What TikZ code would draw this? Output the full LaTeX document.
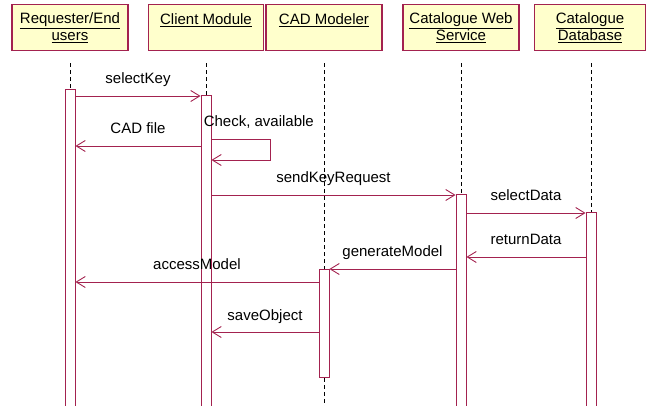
\documentclass[tikz,border=0pt]{standalone}
\usepackage{fontspec}
\setmainfont{Liberation Sans}
\usetikzlibrary{arrows.meta, positioning}
\definecolor{SeqRed}{HTML}{A3224F}
\definecolor{SeqYellow}{HTML}{FFFFCC}

\begin{document}
\begin{tikzpicture}[
			x=1pt, y=-1pt,
			font=\fontsize{15}{17}\selectfont,
			hdr/.style={rectangle, draw=SeqRed, line width=1.2pt, fill=SeqYellow, anchor=north, minimum height=46pt, align=center, inner sep=1pt},
			act/.style={rectangle, draw=SeqRed, line width=0.9pt, fill=white, anchor=north, minimum width=10pt, inner sep=0pt},
			life/.style={dash pattern=on 4pt off 3pt, line width=0.9pt},
			msg/.style={draw=SeqRed, line width=0.9pt, -{Straight Barb[length=9pt, width=11pt]}},
			lbl/.style={anchor=base, yshift=12pt, inner sep=0pt},
			]
			\useasboundingbox (0,0) rectangle (651,406);
			
			\node (req) [hdr, minimum width=116pt] at (70,4) {\underline{Requester/End}\\\underline{users}};
			\node (cli) [hdr, minimum width=115pt] at (206,4) {\underline{Client Module}\\\mbox{}};
			\node (cad) [hdr, minimum width=116pt] at (324,4) {\underline{CAD Modeler}\\\mbox{}};
			\node (cws) [hdr, minimum width=116pt] at (461,4) {\underline{Catalogue Web}\\\underline{Service}};
			\node (db) [hdr, minimum width=111pt] at (590,4) {\underline{Catalogue}\\\underline{Database}};
			
			% activation bars
			\node (actReq) [act, minimum height=323pt] at (req |- 0,89) {};
			\node (actCli) [act, minimum height=317pt] at (cli |- 0,95) {};
			\node (actCws) [act, minimum height=218pt] at (cws |- 0,194) {};
			\node (actDb) [act, minimum height=200pt] at ([xshift=1pt]db |- 0,212) {};
			\node (actCad) [act, minimum height=108pt] at (cad |- 0,269) {};
			\coordinate (bottom) at (0,412);
			
			\draw[life] ([yshift=-12pt]req.south) -- (actReq.north);
			\draw[life] ([yshift=-12pt]cli.south) -- (actCli.north);
			\draw[life] ([yshift=-12pt]cad.south) -- (actCad.north);
			\draw[life] (actCad.south) -- (actCad.south |- bottom);
			\draw[life] ([yshift=-12pt]cws.south) -- (actCws.north);
			\draw[life] ([yshift=-12pt]db.south -| actDb) -- (actDb.north);
			
			% message rows
			\coordinate (m1) at (0,96);
			\coordinate (m2) at (0,146);
			\coordinate (m3) at (0,139);
			\coordinate (m3b) at (0,160);
			\coordinate (m4) at (0,195);
			\coordinate (m5) at (0,213);
			\coordinate (m6) at (0,257);
			\coordinate (m7) at (0,269);
			\coordinate (m8) at (0,282);
			\coordinate (m9) at (0,332);
			
			\draw[msg] (actReq.east |- m1) -- node[lbl] {selectKey} (actCli.west |- m1);
			\draw[msg] (actCli.west |- m2) -- node[lbl] {CAD file} (actReq.east |- m2);
			\draw[msg] (actCli.east |- m3) -- ++(59,0) |- (actCli.east |- m3b); % self call
			\node (chk) [lbl, anchor=base west, xshift=3pt] at (actCli.west |- m3) {Check, available};
			\draw[msg] (actCli.east |- m4) -- node[lbl] {sendKeyRequest} (actCws.west |- m4);
			\draw[msg] (actCws.east |- m5) -- node[lbl] {selectData} (actDb.west |- m5);
			\draw[msg] (actDb.west |- m6) -- node[lbl] {returnData} (actCws.east |- m6);
			\draw[msg] (actCws.west |- m7) -- node[lbl] {generateModel} (actCad.east |- m7);
			\draw[msg] (actCad.west |- m8) -- node[lbl] {accessModel} (actReq.east |- m8);
			\draw[msg] (actCad.west |- m9) -- node[lbl] {saveObject} (actCli.east |- m9);
		\end{tikzpicture}
\end{document}
